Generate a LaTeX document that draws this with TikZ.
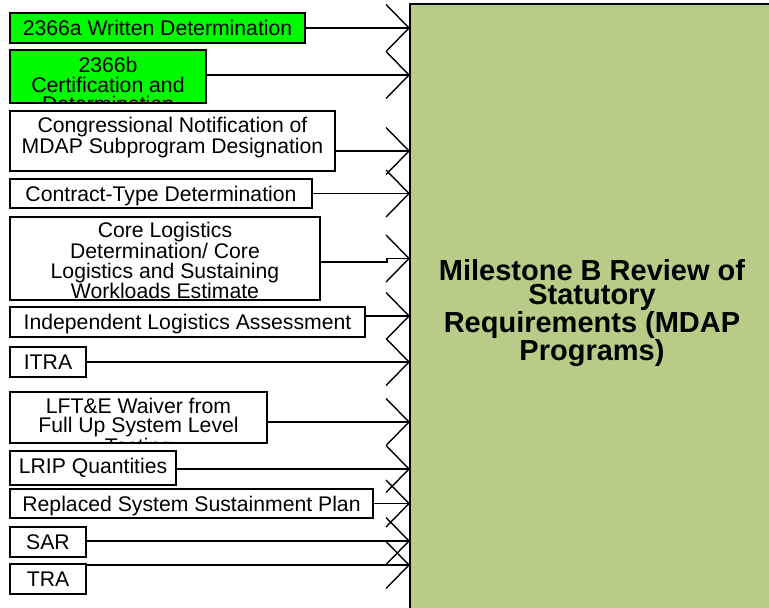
\documentclass[tikz,border=0pt]{standalone}
\usepackage{fontspec}
\setmainfont{Liberation Sans}
\usetikzlibrary{arrows.meta,calc}
\definecolor{boxgreen}{RGB}{0,250,0}
\definecolor{mainfill}{RGB}{184,203,135}
\newcommand\smallfnt{\fontsize{21.2}{19.7}\selectfont}
\newcommand\bigfnt{\fontsize{29}{24.8}\selectfont\bfseries}
\begin{document}
\begin{tikzpicture}[x=1pt,y=-1pt,
  sbox/.style={draw=black, line width=1.5pt, fill=white, inner sep=0pt, outer sep=0pt, anchor=north west},
  gbox/.style={sbox, fill=boxgreen},
  lbl/.style n args={3}{path picture={\node (#1) [anchor=base, inner sep=0pt, align=center, font=\smallfnt, text=black] at ([yshift=#2]path picture bounding box.north) {#3};}},
  mainbox/.style={draw=black, line width=2.5pt, fill=mainfill, inner sep=0pt, outer sep=0pt, anchor=north west, align=center, font=\bigfnt, minimum width=364pt, minimum height=618pt},
  conn/.style={line width=1.4pt, -{Straight Barb[length=23pt, width=47pt]}}
]
\useasboundingbox (0,0) rectangle (769,608);
\clip (0,0) rectangle (769,608);
\fill[white] (0,0) rectangle (769,608);

\node[mainbox] (main) at (410,4) {Milestone B Review of\\Statutory\\Requirements (MDAP\\Programs)};

\node[gbox, minimum width=295pt, minimum height=30pt, lbl={t1}{-22.5pt}{2366a Written Determination}] (b1) at (10,13) {};
\node[gbox, minimum width=196pt, minimum height=53pt, lbl={t2}{-61.9pt}{2366b\\Certification and\\Determination}] (b2) at (10,50) {};
\node[sbox, minimum width=325pt, minimum height=60pt, lbl={t3}{-42.4pt}{Congressional Notification of\\MDAP Subprogram Designation}] (b3) at (10,111) {};
\node[sbox, minimum width=302pt, minimum height=29pt, lbl={t4}{-22.5pt}{Contract-Type Determination}] (b4) at (10,179) {};
\node[sbox, minimum width=310pt, minimum height=83pt, lbl={t5}{-81.9pt}{Core Logistics\\Determination/ Core\\Logistics and Sustaining\\Workloads Estimate}] (b5) at (10,217) {};
\node[sbox, minimum width=355pt, minimum height=30pt, lbl={t6}{-22.5pt}{Independent Logistics Assessment}] (b6) at (10,307) {};
\node[sbox, minimum width=76pt, minimum height=30pt, lbl={t7}{-22.5pt}{ITRA}] (b7) at (10,347) {};
\node[sbox, minimum width=257pt, minimum height=51pt, lbl={t8}{-61.6pt}{LFT\&E Waiver from\\Full Up System Level\\Testing}] (b8) at (10,392) {};
\node[sbox, minimum width=166pt, minimum height=34pt, lbl={t9}{-22.5pt}{LRIP Quantities}] (b9) at (10,451) {};
\node[sbox, minimum width=363pt, minimum height=29pt, lbl={t10}{-22.5pt}{Replaced System Sustainment Plan}] (b10) at (10,489) {};
\node[sbox, minimum width=76pt, minimum height=30pt, lbl={t11}{-22.5pt}{SAR}] (b11) at (10,527) {};
\node[sbox, minimum width=76pt, minimum height=30pt, lbl={t12}{-22.5pt}{TRA}] (b12) at (10,564) {};

\coordinate (s1) at (b1.east);
\coordinate (s2) at ($(b2.east)+(0,-1.5)$);
\coordinate (s3) at ($(b3.east)+(0,10)$);
\coordinate (s4) at (b4.east);
\coordinate (s5) at ($(b5.east)+(0,3.5)$);
\coordinate (s6) at ($(b6.east)+(0,-6)$);
\coordinate (s7) at (b7.east);
\coordinate (s8) at ($(b8.east)+(0,4.5)$);
\coordinate (s9) at ($(b9.east)+(0,1)$);
\coordinate (s10) at (b10.east);
\coordinate (s11) at ($(b11.east)+(0,-1)$);
\coordinate (s12) at ($(b12.east)+(0,-14)$);

\foreach \i in {1,2,3,4,6,7,8,9,10,11,12}{
  \draw[conn] (s\i) -- (s\i -| main.west);
}
\coordinate (e5) at (b5.east -| main.west);
\coordinate (j5) at ($(s5 -| e5)+(-23,0)$);
\draw[conn] (s5) -- (j5) |- (e5);
\end{tikzpicture}
\end{document}
